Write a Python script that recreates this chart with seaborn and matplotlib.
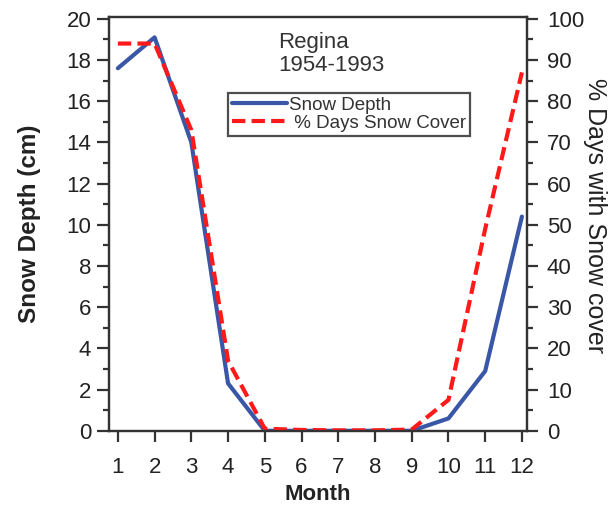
import numpy as np
import pandas as pd
import matplotlib
matplotlib.use("Agg")
import matplotlib.pyplot as plt
import seaborn as sns
from matplotlib.ticker import MultipleLocator
from matplotlib.lines import Line2D

sns.set_style("ticks")
plt.rcParams['font.family'] = ['Liberation Sans', 'DejaVu Sans']

# data
months = [1, 2, 3, 4, 5, 6, 7, 8, 9, 10, 11, 12]
snow_depth = [17.6, 19.1, 14.0, 2.3, 0.0, 0.0, 0.0, 0.0, 0.0, 0.6, 2.9, 10.4]
pct_cover = [94, 94, 73, 17, 0.5, 0.2, 0.1, 0.1, 0.3, 7.5, 49, 87]

df = pd.DataFrame({'Month': months, 'Snow Depth': snow_depth, 'Cover': pct_cover})

blue = '#3a56a6'
red = '#ff1a1a'
dash = (0, (3.2, 1.5))
dark = '#333333'

fig = plt.figure(figsize=(6.14, 5.08), dpi=100)
ax = fig.add_axes([0.177, 0.152, 0.682, 0.815])
ax2 = ax.twinx()

sns.lineplot(data=df, x='Month', y='Snow Depth', ax=ax, color=blue, linewidth=3)
sns.lineplot(data=df, x='Month', y='Cover', ax=ax2, color=red, linewidth=3,
             linestyle=dash)

ax.set_xlim(0.75, 12.15)
ax.set_ylim(0, 20.1)
ax2.set_ylim(0, 100.5)

ax.set_xticks(months)
ax.yaxis.set_major_locator(MultipleLocator(2))
ax.yaxis.set_minor_locator(MultipleLocator(1))
ax2.yaxis.set_major_locator(MultipleLocator(10))
ax2.yaxis.set_minor_locator(MultipleLocator(5))

for a in (ax, ax2):
    for s in a.spines.values():
        s.set_linewidth(1.6)
        s.set_color(dark)
    a.tick_params(which='minor', length=4, width=1.6, color=dark)
ax.tick_params(axis='x', which='major', length=8, width=1.6, pad=11,
               labelsize=16, color=dark, labelcolor='#222222')
ax.tick_params(axis='y', which='major', length=9, width=1.6, pad=3.5,
               labelsize=16, color=dark, labelcolor='#222222')
ax2.tick_params(axis='y', which='major', length=8, width=1.6, pad=6,
                labelsize=16, color=dark, labelcolor='#222222')

ax.set_xlabel('Month', fontsize=16, fontweight='bold', color='#222222')
ax.set_ylabel('Snow Depth (cm)', fontsize=17.5, fontweight='bold', color='#222222')
ax2.set_ylabel('% Days with Snow cover', fontsize=18, rotation=270, color='#222222')

ax.xaxis.set_label_coords(0.5, -0.128)
ax.xaxis.label.set_va('top')
ax.yaxis.set_label_coords(-0.19, 0.5)
ax.yaxis.label.set_va('center')
ax2.yaxis.set_label_coords(1.162, 0.52)
ax2.yaxis.label.set_va('center')

ax.text(0.405, 0.963, 'Regina\n1954-1993', transform=ax.transAxes, fontsize=16,
        ha='left', va='top', color='#333333', linespacing=1.15)

handles = [Line2D([], [], color=blue, linewidth=3),
           Line2D([], [], color=red, linewidth=3, linestyle=dash)]
leg = ax.legend(handles, ['Snow Depth', ' % Days Snow Cover'],
                loc='upper left', bbox_to_anchor=(0.286, 0.816), fontsize=13.5,
                frameon=True, fancybox=False, borderpad=0.2, handlelength=2.9,
                handletextpad=0.15, labelspacing=0.05, borderaxespad=0)
leg.get_frame().set_edgecolor('#222222')
leg.get_frame().set_linewidth(1.6)
for t in leg.get_texts():
    t.set_color('#333333')

fig.savefig('out.png', dpi=100)
